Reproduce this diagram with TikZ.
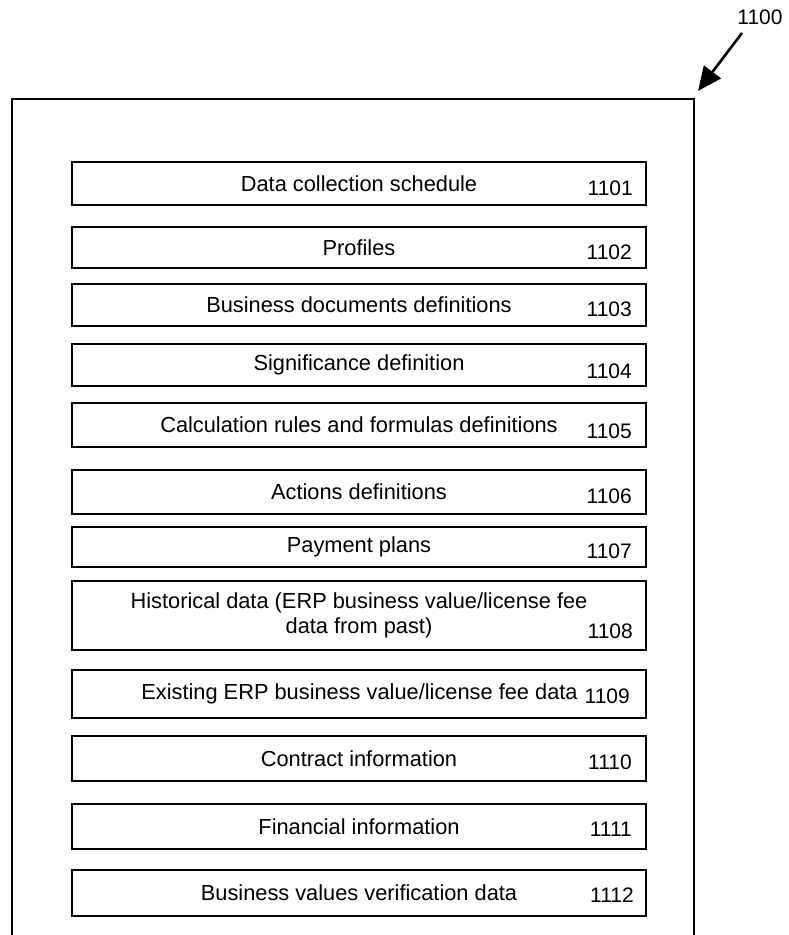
\documentclass[tikz,border=0pt]{standalone}
\usepackage{fontspec}
\setmainfont{Liberation Sans}
\usetikzlibrary{arrows.meta}

\tikzset{
  entry/.style={draw, line width=2pt, minimum width=574pt, inner sep=0pt, align=center},
  num/.style={anchor=east, inner sep=0pt, font=\fontsize{21}{25}\selectfont},
  refarrow/.style={line width=2.6pt, -{Triangle[length=24pt,width=21pt]}}
}

\begin{document}
\begin{tikzpicture}[x=1pt, y=-1pt, font=\fontsize{21.8}{25.5}\selectfont]
        \useasboundingbox (0,0) rectangle (788,935);

        % outer frame, open at the bottom
        \draw[line width=2.5pt] (12,935) -- (12,99) -- (694,99) -- (694,935);

        \node[font=\fontsize{21}{25}\selectfont] (lbl) at (760,17) {1100};
        \coordinate (tail) at (742,33);
        \coordinate (tip) at (698,91);
        \draw[refarrow] (tail) -- (tip);

        \node[entry, minimum height=43pt] (b1) at (359,183.5) {Data collection schedule};
        \node[entry, minimum height=41pt] (b2) at (359,247.5) {Profiles};
        \node[entry, minimum height=42pt] (b3) at (359,305) {Business documents definitions};
        \node[entry, minimum height=42pt] (b4) at (359,365) {Significance definition};
        \node[entry, minimum height=44pt] (b5) at (359,425) {Calculation rules and formulas definitions};
        \node[entry, minimum height=44pt] (b6) at (359,492) {Actions definitions};
        \node[entry, minimum height=40pt] (b7) at (359,547) {Payment plans};
        \node[entry, minimum height=69pt] (b8) at (359,615.5) {Historical data (ERP business value/license fee\\data from past)};
        \node[entry, minimum height=48pt] (b9) at (359,694) {\hspace*{1pt}Existing ERP business value/license fee data};
        \node[entry, minimum height=45pt] (b10) at (359,758.5) {Contract information};
        \node[entry, minimum height=45pt] (b11) at (359,826.5) {Financial information};
        \node[entry, minimum height=46pt] (b12) at (359,893) {Business values verification data};

        \node[num] (n1) at (633,188) {1101};
        \node[num] (n2) at (632,252) {1102};
        \node[num] (n3) at (632,309) {1103};
        \node[num] (n4) at (632,371) {1104};
        \node[num] (n5) at (632,431) {1105};
        \node[num] (n6) at (632,496) {1106};
        \node[num] (n7) at (632,551) {1107};
        \node[num] (n8) at (633,631) {1108};
        \node[num] (n9) at (630,696) {1109};
        \node[num] (n10) at (632,762) {1110};
        \node[num] (n11) at (632,829) {1111};
        \node[num] (n12) at (634,895) {1112};
      \end{tikzpicture}
\end{document}
